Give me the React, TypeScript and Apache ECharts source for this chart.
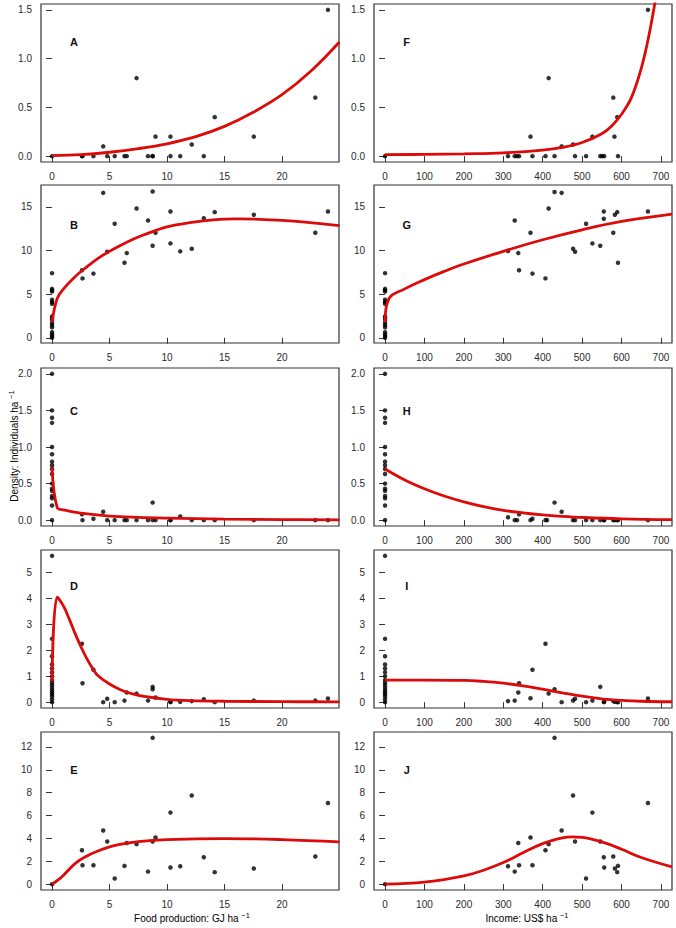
import React, { useEffect, useRef } from "react";
import * as echarts from "echarts";

type P = [number, number];

// ---- Data ----
const foodTicks = [0, 5, 10, 15, 20];
const incomeTicks = [0, 100, 200, 300, 400, 500, 600, 700];
const yTicksA = [0, 0.5, 1.0, 1.5];
const yTicksB = [0, 5, 10, 15];
const yTicksC = [0, 0.5, 1.0, 1.5, 2.0];
const yTicksD = [0, 1, 2, 3, 4, 5];
const yTicksE = [0, 2, 4, 6, 8, 10, 12];
const panelLetters = ["A", "B", "C", "D", "E", "F", "G", "H", "I", "J"];

// Forest sites (x = 0)
const forestB = [7.4, 5.6, 5.45, 5.3, 4.35, 4.1, 3.9, 2.45, 2.25, 2.05, 1.7, 1.45, 1.2, 0.65, 0.4, 0.2, 0];
const forestC = [2.0, 1.5, 1.4, 1.33, 1.0, 0.9, 0.8, 0.75, 0.7, 0.63, 0.5, 0.43, 0.4, 0.33, 0.3, 0.2, 0];
const forestD = [5.64, 2.44, 1.77, 1.45, 1.3, 1.15, 1.0, 0.85, 0.75, 0.65, 0.55, 0.45, 0.37, 0.3, 0.22, 0.1, 0];

// Food production panels
const pointsA: P[] = [[0, 0], [2.6, 0], [2.65, 0], [3.6, 0], [4.45, 0.1], [4.8, 0], [5.45, 0], [6.3, 0], [6.5, 0], [7.35, 0.8], [8.35, 0], [8.75, 0], [8.75, 0], [9.0, 0.2], [10.3, 0.2], [10.3, 0], [11.15, 0], [12.15, 0.12], [13.2, 0], [14.15, 0.4], [17.55, 0.2], [22.9, 0.6], [24.0, 1.5]];
const farmsB: P[] = [[2.6, 7.73], [2.65, 6.8], [3.6, 7.35], [4.45, 16.6], [4.8, 9.86], [5.45, 13.06], [6.3, 8.6], [6.5, 9.7], [7.35, 14.8], [8.35, 13.44], [8.75, 16.75], [8.75, 10.54], [9.0, 12.03], [10.3, 14.47], [10.3, 10.81], [11.15, 9.9], [12.15, 10.2], [13.2, 13.7], [14.15, 14.39], [17.55, 14.1], [22.9, 12.03], [24, 14.47]];
const farmsC: P[] = [[2.6, 0.08], [2.65, 0], [3.6, 0.02], [4.45, 0.115], [4.8, 0], [5.45, 0], [6.3, 0], [6.5, 0], [7.35, 0], [8.35, 0], [8.75, 0.24], [8.75, 0], [9.0, 0], [10.3, 0], [10.3, 0], [11.15, 0.05], [12.15, 0], [13.2, 0], [14.15, 0], [17.55, 0], [22.9, 0], [24, 0]];
const farmsD: P[] = [[2.6, 2.25], [2.65, 0.73], [3.6, 1.25], [4.45, 0], [4.8, 0.13], [5.45, 0], [6.3, 0.06], [6.5, 0.37], [7.35, 0.33], [8.35, 0.06], [8.75, 0.59], [8.75, 0.5], [9.0, 0.18], [10.3, 0], [10.3, 0.02], [11.15, 0.01], [12.15, 0.04], [13.2, 0.11], [14.15, 0], [17.55, 0.06], [22.9, 0.06], [24, 0.14]];
const pointsE: P[] = [[0, 0], [2.6, 2.97], [2.65, 1.66], [3.6, 1.66], [4.45, 4.69], [4.8, 3.73], [5.45, 0.5], [6.3, 1.6], [6.5, 3.6], [7.35, 3.5], [8.35, 1.1], [8.75, 12.8], [8.75, 3.73], [9.0, 4.08], [10.3, 6.26], [10.3, 1.46], [11.15, 1.57], [12.15, 7.75], [13.2, 2.36], [14.15, 1.05], [17.55, 1.37], [22.9, 2.42], [24, 7.1]];

// Income panels
const pointsF: P[] = [[0, 0], [312, 0], [329, 0], [335, 0], [340, 0], [369, 0.2], [374, 0], [407, 0], [415, 0.8], [430, 0], [448, 0.1], [477, 0.12], [482, 0], [510, 0], [526, 0.2], [546, 0], [551, 0], [556, 0], [579, 0.6], [582, 0.2], [589, 0.4], [591, 0], [667, 1.5]];
const farmsG: P[] = [[312, 9.93], [329, 13.44], [338, 9.7], [340, 7.73], [369, 12.03], [374, 7.35], [407, 6.8], [415, 14.8], [430, 16.7], [448, 16.6], [477, 10.2], [482, 9.86], [510, 13.06], [526, 10.81], [546, 10.54], [555, 14.47], [555, 13.63], [579, 12.03], [583, 14.1], [589, 14.39], [591, 8.6], [667, 14.47]];
const farmsH: P[] = [[312, 0.04], [329, 0], [335, 0], [340, 0.08], [369, 0], [374, 0.02], [407, 0], [411, 0], [430, 0.24], [448, 0.115], [477, 0], [482, 0], [510, 0], [526, 0], [546, 0], [555, 0], [556, 0], [579, 0], [583, 0], [589, 0], [591, 0], [667, 0]];
const farmsI: P[] = [[312, 0.04], [329, 0.06], [338, 0.37], [340, 0.73], [369, 0.15], [374, 1.25], [407, 2.25], [415, 0.33], [430, 0.5], [448, 0], [477, 0.06], [482, 0.13], [510, 0], [526, 0.06], [546, 0.59], [555, 0], [556, 0.02], [579, 0.04], [583, 0.01], [589, 0], [591, 0], [667, 0.14]];
const pointsJ: P[] = [[0, 0], [312, 1.57], [329, 1.1], [338, 3.6], [340, 1.66], [369, 4.08], [374, 1.66], [407, 2.97], [415, 3.5], [430, 12.8], [448, 4.69], [477, 7.75], [482, 3.73], [510, 0.5], [526, 6.26], [546, 3.73], [555, 2.36], [556, 1.46], [579, 2.42], [583, 1.37], [589, 1.05], [591, 1.6], [667, 7.1]];

// Fitted curves
const curveA: P[] = [[0, 0.005], [2.5, 0.015], [5, 0.04], [7.5, 0.077], [10, 0.127], [12.5, 0.2], [15, 0.305], [17.5, 0.45], [20, 0.63], [22.5, 0.87], [25, 1.17]];
const curveB: P[] = [[0, 1.8], [0.45, 4.5], [1, 5.6], [2, 7.0], [3, 8.1], [4, 9.1], [5, 9.9], [6, 10.6], [7, 11.25], [8, 11.8], [10, 12.7], [12, 13.2], [14, 13.5], [16, 13.62], [18, 13.57], [20, 13.45], [22, 13.25], [25, 12.85]];
const curveC: P[] = [[0, 0.72], [0.45, 0.17], [1, 0.14], [2.5, 0.095], [5, 0.055], [7.5, 0.037], [10, 0.027], [15, 0.014], [20, 0.008], [25, 0.005]];
const curveD: P[] = [[0, 0.8], [0.45, 4.05], [1, 3.7], [1.5, 3.2], [2, 2.65], [2.5, 2.15], [3, 1.7], [3.6, 1.25], [4, 1.02], [5, 0.7], [6, 0.47], [7, 0.32], [8, 0.22], [10, 0.11], [12, 0.06], [15, 0.035], [20, 0.02], [25, 0.01]];
const curveE: P[] = [[0, 0], [0.5, 0.35], [1, 0.79], [2, 1.8], [3, 2.45], [4, 2.9], [5, 3.26], [6, 3.5], [7.5, 3.73], [10, 3.9], [15, 3.99], [20, 3.9], [25, 3.7]];
const curveF: P[] = [[0, 0.015], [100, 0.018], [200, 0.024], [300, 0.034], [400, 0.062], [450, 0.09], [500, 0.14], [550, 0.23], [575, 0.31], [600, 0.43], [625, 0.6], [650, 0.9], [670, 1.25], [690, 1.7]];
const curveG: P[] = [[0, 1.8], [10, 4.5], [50, 5.6], [100, 6.66], [150, 7.6], [200, 8.45], [300, 9.9], [400, 11.23], [500, 12.37], [600, 13.32], [728, 14.16]];
const curveH: P[] = [[0, 0.7], [50, 0.55], [100, 0.43], [150, 0.33], [200, 0.25], [250, 0.185], [300, 0.135], [350, 0.1], [400, 0.072], [450, 0.052], [500, 0.037], [600, 0.018], [728, 0.007]];
const curveI: P[] = [[0, 0.85], [100, 0.85], [200, 0.84], [250, 0.8], [300, 0.73], [350, 0.63], [400, 0.5], [450, 0.36], [500, 0.23], [550, 0.13], [600, 0.07], [650, 0.035], [728, 0.015]];
const curveJ: P[] = [[0, 0], [100, 0.17], [200, 0.73], [250, 1.22], [300, 1.89], [350, 2.74], [400, 3.55], [450, 4.05], [475, 4.14], [500, 4.1], [550, 3.7], [600, 3.06], [650, 2.33], [728, 1.51]];

const withForest = (forest: number[], farms: P[]): P[] => [
  ...forest.map((v) => [0, v] as P),
  ...farms,
];

const FONT = "Liberation Sans, Arial, Helvetica, sans-serif";
const TXT = "#2a2a2a";

export default function App() {
  const ref = useRef<HTMLDivElement>(null);

  useEffect(() => {
    document.body.style.margin = "0";
    if (!ref.current) return;
    const chart = echarts.init(ref.current, undefined, { renderer: "svg" });

    const points: P[][] = [
      pointsA,
      withForest(forestB, farmsB),
      withForest(forestC, farmsC),
      withForest(forestD, farmsD),
      pointsE,
      pointsF,
      withForest(forestB, farmsG),
      withForest(forestC, farmsH),
      withForest(forestD, farmsI),
      pointsJ,
    ];
    const curves: P[][] = [curveA, curveB, curveC, curveD, curveE, curveF, curveG, curveH, curveI, curveJ];
    const yTicks = [yTicksA, yTicksB, yTicksC, yTicksD, yTicksE];
    const yRanges: [number, number][] = [
      [-0.06, 1.56],
      [-0.6, 17.5],
      [-0.08, 2.08],
      [-0.225, 5.865],
      [-0.51, 13.31],
    ];
    const oneDecimal = [true, false, true, false, false];
    const tops = [4, 185, 368, 550, 732];
    const H = 158;
    const lefts = [41, 374];
    const W = 298;
    const letterY = [41.7, 225, 410.7, 586, 770];

    const grids: any[] = [];
    const xAxes: any[] = [];
    const yAxes: any[] = [];
    const series: any[] = [];
    const graphics: any[] = [];

    for (let i = 0; i < 10; i++) {
      const col = i < 5 ? 0 : 1;
      const row = i % 5;
      grids.push({
        left: lefts[col],
        top: tops[row],
        width: W,
        height: H,
        show: true,
        borderColor: "#333",
        borderWidth: 1.2,
        backgroundColor: "transparent",
        containLabel: false,
      });
      const xt = col === 0 ? foodTicks : incomeTicks;
      xAxes.push({
        gridIndex: i,
        type: "value",
        min: col === 0 ? -0.96 : -28,
        max: col === 0 ? 24.96 : 728,
        axisLine: { show: false },
        splitLine: { show: false },
        axisTick: { show: true, inside: false, length: 6, customValues: xt, lineStyle: { color: "#333", width: 1 } },
        axisLabel: { show: true, customValues: xt, margin: 9, fontSize: 10, color: TXT, fontFamily: FONT },
      });
      const yt = yTicks[row];
      const dec = oneDecimal[row];
      yAxes.push({
        gridIndex: i,
        type: "value",
        min: yRanges[row][0],
        max: yRanges[row][1],
        axisLine: { show: false },
        splitLine: { show: false },
        axisTick: { show: true, inside: false, length: 6, customValues: yt, lineStyle: { color: "#333", width: 1 } },
        axisLabel: {
          show: true,
          customValues: yt,
          margin: 9,
          fontSize: 10,
          color: TXT,
          fontFamily: FONT,
          formatter: (v: number) => (dec ? v.toFixed(1) : String(v)),
        },
      });
      series.push({
        type: "scatter",
        xAxisIndex: i,
        yAxisIndex: i,
        data: points[i],
        symbolSize: 4.5,
        itemStyle: { color: "#000" },
        z: 2,
        silent: true,
      });
      series.push({
        type: "line",
        xAxisIndex: i,
        yAxisIndex: i,
        data: curves[i],
        smooth: 0.4,
        showSymbol: false,
        symbol: "none",
        clip: true,
        lineStyle: { color: "#dd0a0a", width: 2.8 },
        z: 3,
        silent: true,
      });
      graphics.push({
        type: "text",
        x: col === 0 ? 74 : 406.7,
        y: letterY[row],
        style: {
          text: panelLetters[i],
          fontSize: 11,
          fontWeight: "bold",
          fontFamily: FONT,
          fill: "#111",
          align: "center",
          verticalAlign: "middle",
        },
      });
    }

    const richTitle = {
      m: { fontSize: 10, fontFamily: FONT, color: TXT, lineHeight: 14 },
      s: { fontSize: 7.5, fontFamily: FONT, color: TXT, verticalAlign: "top", lineHeight: 14 },
    };

    graphics.push({
      type: "text",
      x: 192,
      y: 918,
      style: {
        text: "{m|Food production: GJ ha }{s|−1}",
        rich: richTitle,
        align: "center",
        verticalAlign: "middle",
      },
    });
    graphics.push({
      type: "text",
      x: 527,
      y: 918,
      style: {
        text: "{m|Income: US$ ha }{s|−1}",
        rich: richTitle,
        align: "center",
        verticalAlign: "middle",
      },
    });
    graphics.push({
      type: "text",
      x: 14,
      y: 446,
      rotation: Math.PI / 2,
      style: {
        text: "{m|Density: Individuals ha }{s|−1}",
        rich: richTitle,
        align: "center",
        verticalAlign: "middle",
      },
    });

    chart.setOption({
      animation: false,
      backgroundColor: "#fff",
      grid: grids,
      xAxis: xAxes,
      yAxis: yAxes,
      series,
      graphic: graphics,
    });

    return () => chart.dispose();
  }, []);

  return <div ref={ref} style={{ width: 676, height: 928 }} />;
}
